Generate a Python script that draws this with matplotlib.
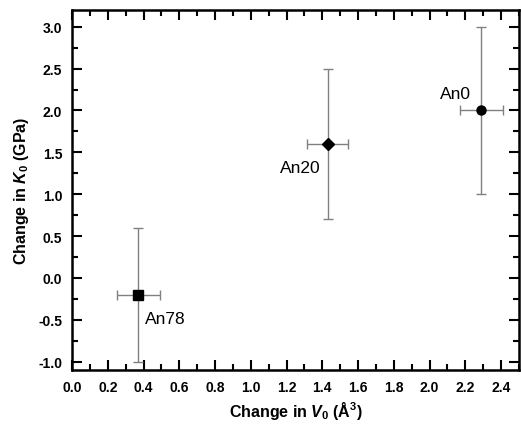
import matplotlib
matplotlib.use('Agg')
import matplotlib.pyplot as plt
from matplotlib.ticker import MultipleLocator

plt.rcParams['font.family'] = ['Liberation Sans', 'DejaVu Sans']
plt.rcParams['mathtext.fontset'] = 'custom'
plt.rcParams['mathtext.rm'] = 'Liberation Sans:bold'
plt.rcParams['mathtext.it'] = 'Liberation Sans:bold:italic'
plt.rcParams['mathtext.bf'] = 'Liberation Sans:bold'

names = ['An78', 'An20', 'An0']
dV = [0.37, 1.43, 2.29]
dV_err = [0.12, 0.115, 0.12]
dK = [-0.2, 1.6, 2.0]
dK_err = [0.8, 0.9, 1.0]
markers = ['s', 'D', 'o']
label_pos = [(0.41, -0.48, 'left'), (1.39, 1.32, 'right'), (2.23, 2.20, 'right')]

fig = plt.figure(figsize=(5.21, 4.27), dpi=100)
ax = fig.add_axes([72/521, 1 - 371/427, 447/521, 360/427])

for i in range(len(names)):
    ax.errorbar(dV[i], dK[i], xerr=dV_err[i], yerr=dK_err[i], fmt='none',
                ecolor='#808080', elinewidth=1, capsize=3.5, capthick=1)
    ax.plot(dV[i], dK[i], marker=markers[i], color='black',
            markersize=6.5, linestyle='none')
    lx, ly, ha = label_pos[i]
    ax.text(lx, ly, names[i], ha=ha, va='center', fontsize=12.5)

ax.set_xlim(0, 2.5)
ax.set_ylim(-1.1, 3.2)
ax.xaxis.set_major_locator(MultipleLocator(0.2))
ax.xaxis.set_minor_locator(MultipleLocator(0.1))
ax.yaxis.set_major_locator(MultipleLocator(0.5))
ax.yaxis.set_minor_locator(MultipleLocator(0.25))
ax.xaxis.set_major_formatter(plt.FormatStrFormatter('%.1f'))
ax.yaxis.set_major_formatter(plt.FormatStrFormatter('%.1f'))

ax.tick_params(which='both', direction='in', top=True, right=True, width=1.5)
ax.tick_params(which='major', length=7, labelsize=10, pad=7)
ax.tick_params(which='minor', length=4)
for lab in ax.get_xticklabels() + ax.get_yticklabels():
    lab.set_fontweight('bold')
for sp in ax.spines.values():
    sp.set_linewidth(1.8)

ax.set_xlabel('Change in $V_{0}$ (Å$^{3}$)', fontsize=11.5, fontweight='bold', labelpad=4)
ax.set_ylabel('Change in $K_{0}$ (GPa)', fontsize=11.5, fontweight='bold', labelpad=5)

fig.savefig('out.png', dpi=100)
